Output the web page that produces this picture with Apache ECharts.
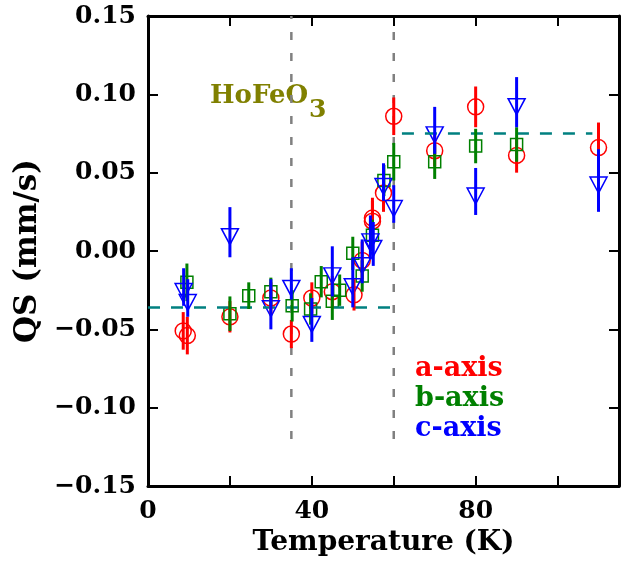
<!DOCTYPE html>
<html>
<head>
<meta charset="utf-8">
<script src="https://cdn.jsdelivr.net/npm/echarts@6/dist/echarts.min.js"></script>
<style>html,body{margin:0;padding:0;background:#fff;}#c{width:628px;height:563px;}</style>
</head>
<body>
<div id="c"></div>
<script>
// ---- data ----
const aT   = [8.6, 9.6, 20, 30, 35, 40, 45, 50.3, 52.3, 54.8, 54.8, 57.5, 60, 70, 80, 90, 110];
const aQS  = [-0.051, -0.054, -0.042, -0.030, -0.053, -0.030, -0.026, -0.028, -0.006, 0.021, 0.019, 0.037, 0.086, 0.064, 0.092, 0.061, 0.066];
const aErr = [0.012, 0.012, 0.010, 0.010, 0.009, 0.010, 0.010, 0.010, 0.012, 0.013, 0.013, 0.012, 0.012, 0.010, 0.013, 0.011, 0.016];

const bT   = [9.5, 20, 24.6, 30, 35.2, 39.7, 42.3, 45, 46.8, 50, 52.3, 54.8, 57.6, 60, 70, 80, 90];
const bQS  = [-0.020, -0.040, -0.0285, -0.026, -0.035, -0.037, -0.0196, -0.032, -0.025, -0.0015, -0.016, 0.010, 0.045, 0.057, 0.057, 0.067, 0.068];
const bErr = [0.012, 0.011, 0.0085, 0.009, 0.010, 0.010, 0.010, 0.012, 0.010, 0.0106, 0.010, 0.010, 0.010, 0.012, 0.011, 0.011, 0.011];

const cT   = [8.7, 9.7, 20, 30, 35, 40, 45, 50, 52.3, 54.3, 55, 57.5, 60, 70, 80, 90, 110];
const cQS  = [-0.023, -0.030, 0.012, -0.034, -0.021, -0.044, -0.013, -0.020, -0.0066, 0.0087, 0.0045, 0.044, 0.030, 0.077, 0.038, 0.095, 0.045];
const cErr = [0.012, 0.012, 0.016, 0.016, 0.010, 0.014, 0.016, 0.016, 0.014, 0.014, 0.014, 0.012, 0.012, 0.015, 0.015, 0.016, 0.020];

const seriesNames = ['a-axis', 'b-axis', 'c-axis'];
const seriesColors = ['#ff0000', '#008000', '#0000ff'];

// reference lines
const vLineT = [35, 60];
const vLineQS = [[-0.12, 0.15], [-0.12, 0.144]];
const hLowQS = -0.036, hLowT = [0, 60];
const hHighQS = 0.075, hHighT = [62, 108.5];

// axes
const xMin = 0, xMax = 115, xStep = 20, xLabelEvery = 40;
const yMin = -0.15, yMax = 0.15, yStep = 0.05;

// ---- chart ----
const FONT = 'DejaVu Serif';
const chart = echarts.init(document.getElementById('c'), null, {renderer: 'canvas'});

function toPts(T, Q, E) { return T.map((t, i) => [t, Q[i], E[i]]); }
function errRender(color) {
  return function (params, api) {
    const x = api.value(0), y = api.value(1), e = api.value(2);
    const p1 = api.coord([x, y - e]), p2 = api.coord([x, y + e]);
    return {type: 'line', shape: {x1: p1[0], y1: p1[1], x2: p2[0], y2: p2[1]},
            style: {stroke: color, lineWidth: 3}};
  };
}
const fmtY = v => { const s = Math.abs(v) < 1e-9 ? '0.00' : v.toFixed(2); return s.replace('-', '\u2212'); };

const tickStyle = {show: true, inside: true, length: 10, lineStyle: {color: '#000', width: 2}};
const lineStyle = {show: true, onZero: false, lineStyle: {color: '#000', width: 3}};

const dashGray = {color: '#808080', width: 2.5, type: [8, 13]};
const dashTeal = {color: '#008080', width: 2.5, type: [12, 11]};

const sets = [[aT, aQS, aErr], [bT, bQS, bErr], [cT, cQS, cErr]];
const markers = [
  {symbol: 'circle', symbolSize: 16, symbolRotate: 0, symbolOffset: [0, 0]},
  {symbol: 'rect', symbolSize: 12, symbolRotate: 0, symbolOffset: [0, 0]},
  {symbol: 'triangle', symbolSize: [17, 16], symbolRotate: 180, symbolOffset: [0, 4.5]}
];

const series = [];
sets.forEach((s, k) => {
  series.push(Object.assign({
    name: seriesNames[k], type: 'scatter', xAxisIndex: 0, yAxisIndex: 0,
    data: toPts(s[0], s[1], s[2]).map(p => [p[0], p[1]]),
    itemStyle: {color: 'rgba(0,0,0,0)', borderColor: seriesColors[k], borderWidth: 1.5, opacity: 1},
    emphasis: {disabled: true}, z: 2
  }, markers[k]));
});
vLineT.forEach((t, i) => series.push({
  type: 'line', data: [[t, vLineQS[i][0]], [t, vLineQS[i][1]]], showSymbol: false, symbol: 'none',
  lineStyle: dashGray, z: 3, silent: true
}));
series.push({type: 'line', data: [[hLowT[0], hLowQS], [hLowT[1], hLowQS]], symbol: 'none', lineStyle: dashTeal, z: 3, silent: true});
series.push({type: 'line', data: [[hHighT[0], hHighQS], [hHighT[1], hHighQS]], symbol: 'none', lineStyle: dashTeal, z: 3, silent: true});
sets.forEach((s, k) => {
  series.push({
    name: seriesNames[k], type: 'custom', renderItem: errRender(seriesColors[k]),
    data: toPts(s[0], s[1], s[2]), encode: {x: 0, y: 1}, z: 4, silent: true
  });
});

const option = {
  animation: false,
  backgroundColor: '#fff',
  grid: {left: 148, top: 16, right: 9, bottom: 77, containLabel: false},
  legend: {
    orient: 'vertical', left: 404, top: 350, itemWidth: 0, itemHeight: 0, itemGap: 3,
    selectedMode: false, icon: 'rect',
    data: seriesNames.map((n, k) => ({name: n, textStyle: {color: seriesColors[k]}})),
    textStyle: {fontFamily: FONT, fontWeight: 'bold', fontSize: 27, lineHeight: 27}
  },
  xAxis: [{
    type: 'value', min: xMin, max: xMax, interval: xStep, position: 'bottom',
    axisLine: lineStyle, axisTick: tickStyle, splitLine: {show: false},
    axisLabel: {margin: 13, color: '#000', fontFamily: FONT, fontWeight: 'bold', fontSize: 25,
      formatter: v => (v % xLabelEvery === 0 ? String(v) : ''), showMaxLabel: false},
    name: 'Temperature (K)', nameLocation: 'middle', nameGap: 43,
    nameTextStyle: {color: '#000', fontFamily: FONT, fontWeight: 'bold', fontSize: 28}
  }, {
    type: 'value', min: xMin, max: xMax, interval: xStep, position: 'top',
    axisLine: lineStyle, axisTick: tickStyle, splitLine: {show: false}, axisLabel: {show: false}
  }],
  yAxis: [{
    type: 'value', min: yMin, max: yMax, interval: yStep, position: 'left',
    axisLine: lineStyle, axisTick: tickStyle, splitLine: {show: false},
    axisLabel: {margin: 12, color: '#000', fontFamily: FONT, fontWeight: 'bold', fontSize: 25, formatter: fmtY},
    name: 'QS (mm/s)', nameLocation: 'middle', nameGap: 97,
    nameTextStyle: {color: '#000', fontFamily: FONT, fontWeight: 'bold', fontSize: 31}
  }, {
    type: 'value', min: yMin, max: yMax, interval: yStep, position: 'right',
    axisLine: lineStyle, axisTick: tickStyle, splitLine: {show: false}, axisLabel: {show: false}
  }],
  graphic: [
    {type: 'text', left: 210, top: 83, style: {text: 'HoFeO', fill: '#808000', font: 'bold 26px "DejaVu Serif"'}},
    {type: 'text', left: 309, top: 98, style: {text: '3', fill: '#808000', font: 'bold 25px "DejaVu Serif"'}}
  ],
  series: series
};
chart.setOption(option);
</script>
</body>
</html>
